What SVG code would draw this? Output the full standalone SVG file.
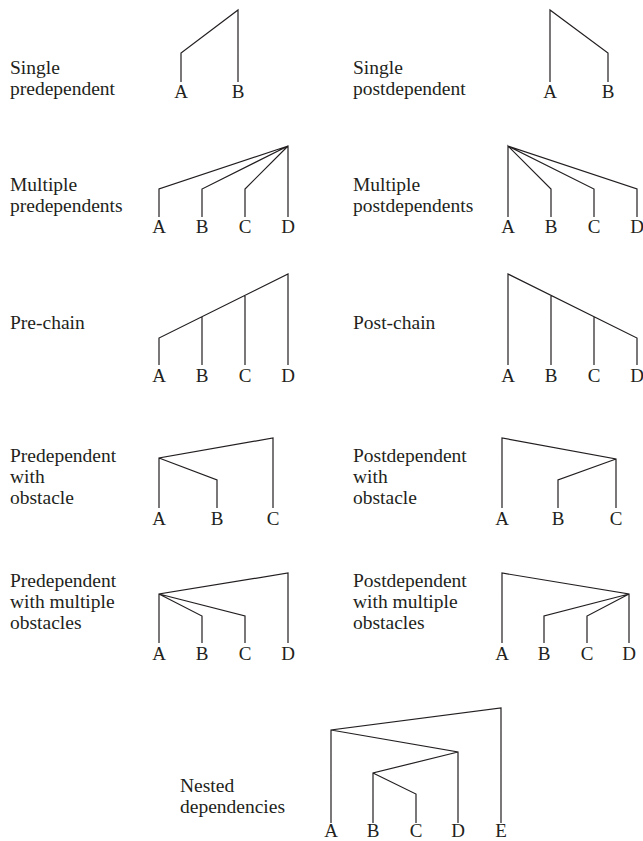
<svg xmlns="http://www.w3.org/2000/svg" width="643" height="841" viewBox="0 0 643 841">
<style>
text{font-family:"Liberation Serif","Times New Roman",serif;font-size:19px;fill:#231f20}
.l{font-size:19.5px}
.n{text-anchor:middle}
.c path{fill:none;stroke:#231f20;stroke-width:1.2}
</style>
<rect width="643" height="841" fill="#fff"/>
<g id="labels" class="l">
<text class="l" x="10" y="74">Single</text><text class="l" x="10" y="95">predependent</text>
<text class="l" x="353" y="74">Single</text><text class="l" x="353" y="95">postdependent</text>
<text class="l" x="10" y="191">Multiple</text><text class="l" x="10" y="212">predependents</text>
<text class="l" x="353" y="191">Multiple</text><text class="l" x="353" y="212">postdependents</text>
<text class="l" x="10" y="329">Pre-chain</text>
<text class="l" x="353" y="329">Post-chain</text>
<text class="l" x="10" y="462">Predependent</text><text class="l" x="10" y="483">with</text><text class="l" x="10" y="504">obstacle</text>
<text class="l" x="353" y="462">Postdependent</text><text class="l" x="353" y="483">with</text><text class="l" x="353" y="504">obstacle</text>
<text class="l" x="10" y="587">Predependent</text><text class="l" x="10" y="608">with multiple</text><text class="l" x="10" y="629">obstacles</text>
<text class="l" x="353" y="587">Postdependent</text><text class="l" x="353" y="608">with multiple</text><text class="l" x="353" y="629">obstacles</text>
<text class="l" x="180" y="792">Nested</text><text class="l" x="180" y="813">dependencies</text>
</g>
<g id="nodes">
<g id="r1l"><text class="n" x="181" y="98">A</text><text class="n" x="238" y="98">B</text></g>
<g id="r1r"><text class="n" x="550" y="98">A</text><text class="n" x="608" y="98">B</text></g>
<g id="r2l"><text class="n" x="159" y="233">A</text><text class="n" x="202" y="233">B</text><text class="n" x="245" y="233">C</text><text class="n" x="288" y="233">D</text></g>
<g id="r2r"><text class="n" x="508" y="233">A</text><text class="n" x="551" y="233">B</text><text class="n" x="594" y="233">C</text><text class="n" x="637" y="233">D</text></g>
<g id="r3l"><text class="n" x="159" y="382">A</text><text class="n" x="202" y="382">B</text><text class="n" x="245" y="382">C</text><text class="n" x="288" y="382">D</text></g>
<g id="r3r"><text class="n" x="508" y="382">A</text><text class="n" x="551" y="382">B</text><text class="n" x="594" y="382">C</text><text class="n" x="637" y="382">D</text></g>
<g id="r4l"><text class="n" x="159" y="525">A</text><text class="n" x="217" y="525">B</text><text class="n" x="273" y="525">C</text></g>
<g id="r4r"><text class="n" x="502" y="525">A</text><text class="n" x="558" y="525">B</text><text class="n" x="616" y="525">C</text></g>
<g id="r5l"><text class="n" x="159" y="660">A</text><text class="n" x="202" y="660">B</text><text class="n" x="245" y="660">C</text><text class="n" x="288" y="660">D</text></g>
<g id="r5r"><text class="n" x="502" y="660">A</text><text class="n" x="544" y="660">B</text><text class="n" x="587" y="660">C</text><text class="n" x="629" y="660">D</text></g>
<g id="r6"><text class="n" x="331" y="837">A</text><text class="n" x="373" y="837">B</text><text class="n" x="416" y="837">C</text><text class="n" x="458" y="837">D</text><text class="n" x="501" y="837">E</text></g>
</g>
<g id="connectors" class="c">
<path d="M181 82V53L238 10V82"/>
<path d="M550 82V10L608 53V82"/>
<path d="M288 217V146L159 189V217M288 146L202 189V217M288 146L245 189V217"/>
<path d="M508 217V146L551 189V217M508 146L594 189V217M508 146L637 189V217"/>
<path d="M159 365V338L288 274V365M202 365V317M245 365V296"/>
<path d="M508 365V274L637 338V365M551 365V296M594 365V317"/>
<path d="M159 508V458L273 438V508M159 458L217 480V508"/>
<path d="M502 508V438L616 459V508M616 459L558 480V508"/>
<path d="M159 643V594L288 573V643M159 594L202 616V643M159 594L245 616V643"/>
<path d="M502 643V573L629 594V643M629 594L544 616V643M629 594L587 616V643"/>
<path d="M331 823V730L501 708V823M331 730L458 752V823M458 752L373 773V823M373 773L416 794V823"/>
</g>
</svg>
